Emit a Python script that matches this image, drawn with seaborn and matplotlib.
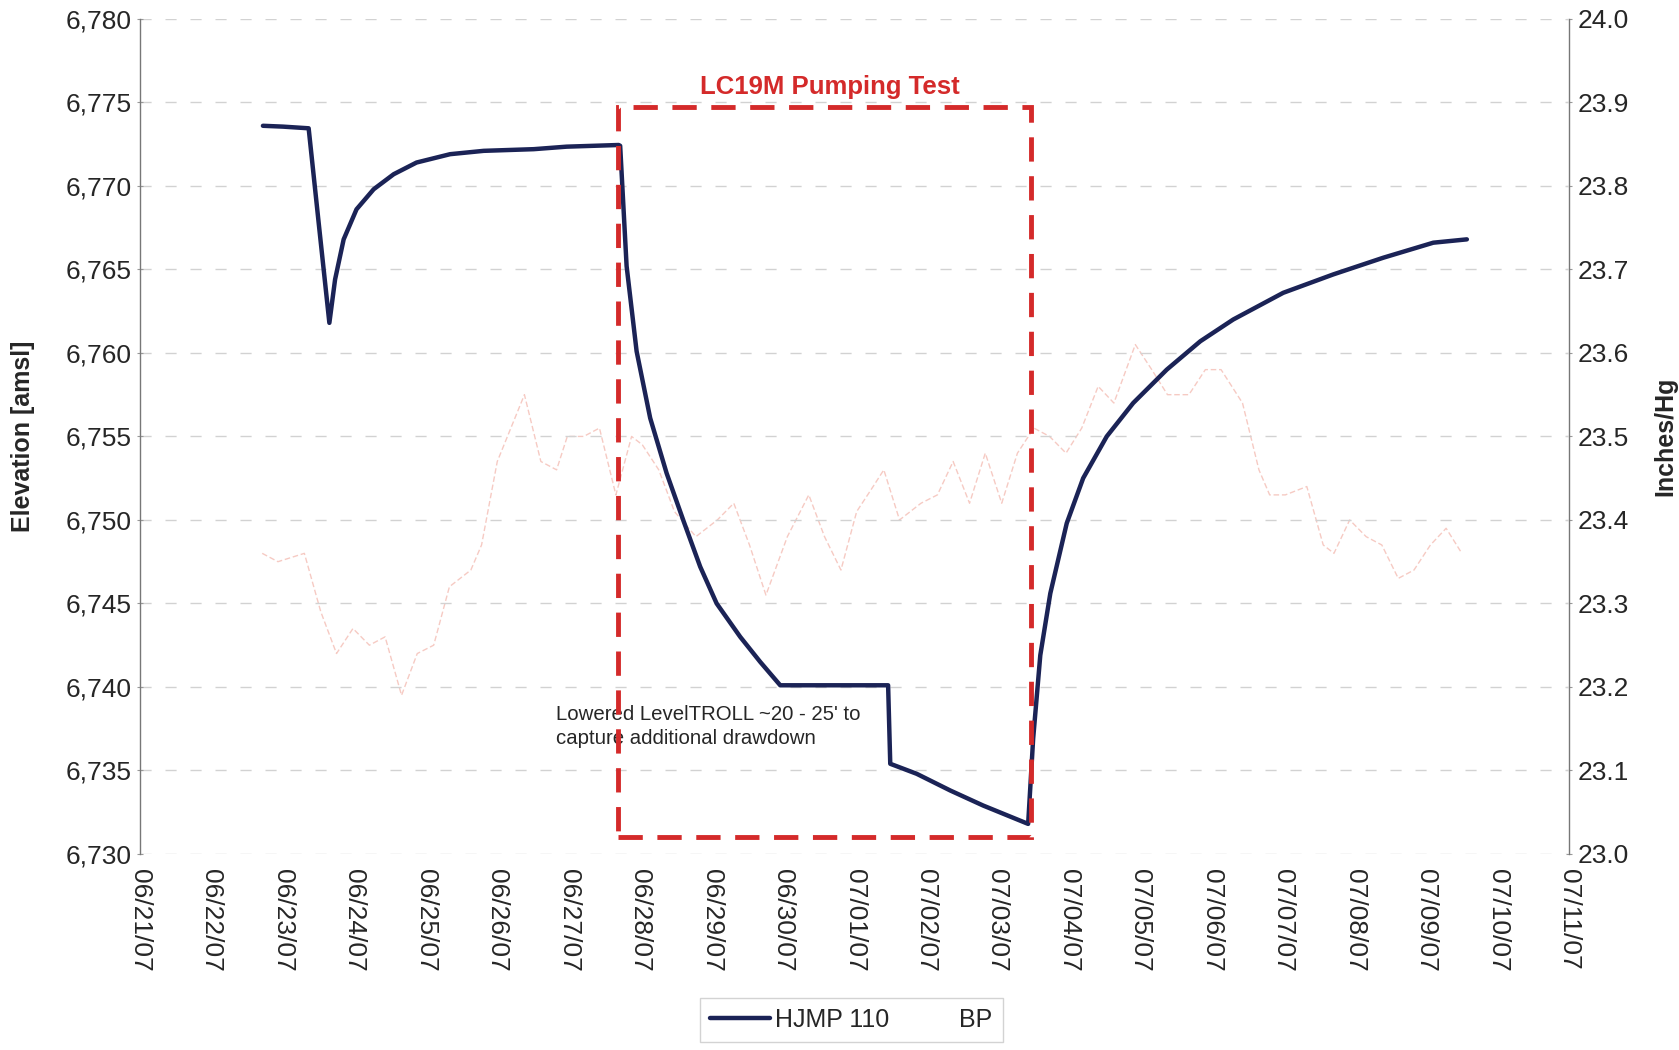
import pandas as pd
import numpy as np
import matplotlib
matplotlib.use("Agg")
import matplotlib.pyplot as plt
import matplotlib.dates as mdates
from matplotlib.patches import Rectangle
import seaborn as sns

# HJMP 110 water level, days after 06/21/07 00:00 vs elevation (ft amsl)
hjmp_days = [1.72, 2.00, 2.36, 2.50, 2.65, 2.73, 2.85, 3.03, 3.27, 3.55, 3.87, 4.34,
             4.81, 5.51, 5.97, 6.70, 6.72, 6.81, 6.95, 7.14, 7.37, 7.61, 7.84, 8.07,
             8.40, 8.68, 8.96, 10.47, 10.50, 10.87, 11.34, 11.80, 12.43, 12.50, 12.60,
             12.74, 12.97, 13.20, 13.53, 13.90, 14.37, 14.84, 15.30, 16.00, 16.70, 17.40,
             18.10, 18.57]
hjmp_elev = [6773.6, 6773.55, 6773.45, 6767.8, 6761.8, 6764.4, 6766.8, 6768.6, 6769.8,
             6770.7, 6771.4, 6771.9, 6772.1, 6772.2, 6772.35, 6772.45, 6772.4, 6765.2,
             6760.1, 6756.1, 6752.8, 6749.9, 6747.2, 6745.0, 6743.0, 6741.5, 6740.1,
             6740.1, 6735.4, 6734.8, 6733.8, 6732.9, 6731.8, 6736.9, 6741.9, 6745.6,
             6749.8, 6752.5, 6755.0, 6757.0, 6759.0, 6760.7, 6762.0, 6763.6, 6764.7,
             6765.7, 6766.6, 6766.8]

# barometric pressure (inches Hg)
bp_days = [1.71, 1.93, 2.30, 2.53, 2.75, 2.98, 3.21, 3.43, 3.66, 3.88, 4.11, 4.33, 4.63,
           4.78, 5.00, 5.38, 5.61, 5.83, 5.98, 6.21, 6.43, 6.66, 6.88, 7.03, 7.26, 7.48,
           7.78, 8.08, 8.31, 8.53, 8.76, 9.06, 9.36, 9.58, 9.81, 10.03, 10.26, 10.41,
           10.63, 10.93, 11.16, 11.38, 11.61, 11.83, 12.06, 12.28, 12.51, 12.73, 12.96,
           13.18, 13.41, 13.63, 13.93, 14.16, 14.38, 14.68, 14.91, 15.13, 15.43, 15.66,
           15.81, 16.03, 16.33, 16.56, 16.71, 16.93, 17.16, 17.38, 17.61, 17.83, 18.06,
           18.28, 18.50]
bp_vals = [23.36, 23.35, 23.36, 23.29, 23.24, 23.27, 23.25, 23.26, 23.19, 23.24, 23.25,
           23.32, 23.34, 23.37, 23.47, 23.55, 23.47, 23.46, 23.50, 23.50, 23.51, 23.43,
           23.50, 23.49, 23.46, 23.41, 23.38, 23.40, 23.42, 23.37, 23.31, 23.38, 23.43,
           23.38, 23.34, 23.41, 23.44, 23.46, 23.40, 23.42, 23.43, 23.47, 23.42, 23.48,
           23.42, 23.48, 23.51, 23.50, 23.48, 23.51, 23.56, 23.54, 23.61, 23.58, 23.55,
           23.55, 23.58, 23.58, 23.54, 23.46, 23.43, 23.43, 23.44, 23.37, 23.36, 23.40,
           23.38, 23.37, 23.33, 23.34, 23.37, 23.39, 23.36]

start = pd.Timestamp("2007-06-21")
end = pd.Timestamp("2007-07-11")

df_hjmp = pd.DataFrame({"time": start + pd.to_timedelta(hjmp_days, unit="D"),
                        "elev": hjmp_elev})
df_bp = pd.DataFrame({"time": start + pd.to_timedelta(bp_days, unit="D"),
                      "bp": bp_vals})

# pumping test window
test_start = start + pd.Timedelta(days=6.69)
test_end = start + pd.Timedelta(days=12.47)

sns.set_style("white")
plt.rcParams["font.family"] = ["Liberation Sans", "DejaVu Sans"]

fig = plt.figure(figsize=(16.79, 10.5), dpi=100)
ax = fig.add_axes([0.0834, 0.1867, 0.8511, 0.7953])
ax2 = ax.twinx()

navy = "#1b2356"
bp_col = "#ef9f92"

sns.lineplot(data=df_bp, x="time", y="bp", ax=ax2, color=bp_col, lw=1.0, alpha=0.55,
             ls=(0, (4, 2)))
sns.lineplot(data=df_hjmp, x="time", y="elev", ax=ax, color=navy, lw=3.2)
ax.set_zorder(ax2.get_zorder() + 1)
ax.patch.set_visible(False)

ax.set_xlim(start, end)
ax.set_ylim(6730, 6780)
ax.set_yticks(np.arange(6730, 6781, 5))
ax.yaxis.set_major_formatter(matplotlib.ticker.FuncFormatter(lambda v, p: f"{v:,.0f}"))
ax2.set_ylim(23.0, 24.0)
ax2.set_yticks(np.arange(23.0, 24.01, 0.1))
ax2.yaxis.set_major_formatter(matplotlib.ticker.FormatStrFormatter("%.1f"))

ax.xaxis.set_major_locator(mdates.DayLocator())
ax.xaxis.set_major_formatter(mdates.DateFormatter("%m/%d/%y"))
for lbl in ax.get_xticklabels():
    lbl.set_rotation(270)

ax.grid(axis="y", color="#d2d2d2", lw=1.0, ls=(0, (8, 10)))
ax.set_axisbelow(True)

for a in (ax, ax2):
    a.spines["top"].set_visible(False)
    a.spines["bottom"].set_visible(False)
    for s in ("left", "right"):
        a.spines[s].set_color("#777777")
        a.spines[s].set_linewidth(1.0)
    a.tick_params(axis="both", labelsize=19, length=5, color="#999999", direction="inout")
ax.spines["right"].set_visible(False)
ax2.spines["left"].set_visible(False)
ax.tick_params(axis="x", pad=8)

ax.set_xlabel("")
ax.set_ylabel("Elevation [amsl]", fontsize=18, fontweight="bold", labelpad=22)
ax2.set_ylabel("Inches/Hg", fontsize=18, fontweight="bold", labelpad=18)

# pumping test box
rect = Rectangle((mdates.date2num(test_start), 6731.0),
                 mdates.date2num(test_end) - mdates.date2num(test_start), 6774.7 - 6731.0,
                 fill=False, edgecolor="#d42a2a", lw=3.5, ls=(0, (5, 3)), zorder=5)
ax.add_patch(rect)
ax.text(start + pd.Timedelta(days=9.65), 6775.9, "LC19M Pumping Test", color="#d42a2a",
        fontsize=18.5, fontweight="bold", ha="center", va="center")
ax.text(start + pd.Timedelta(days=5.82), 6737.65,
        "Lowered LevelTROLL ~20 - 25' to\ncapture additional drawdown",
        fontsize=14.7, ha="left", va="center", linespacing=1.35)

handles = [plt.Line2D([], [], color=navy, lw=3.2), plt.Line2D([], [], color=bp_col, lw=1.0, alpha=0.0)]
fig.legend(handles, ["HJMP 110", "BP"], loc="lower center", bbox_to_anchor=(0.507, -0.004),
           ncol=2, fontsize=18, frameon=True, edgecolor="#c8c8c8", fancybox=False,
           handlelength=2.4, handletextpad=0.2, columnspacing=0.2, borderpad=0.4)

fig.savefig("out.png", dpi=100)
